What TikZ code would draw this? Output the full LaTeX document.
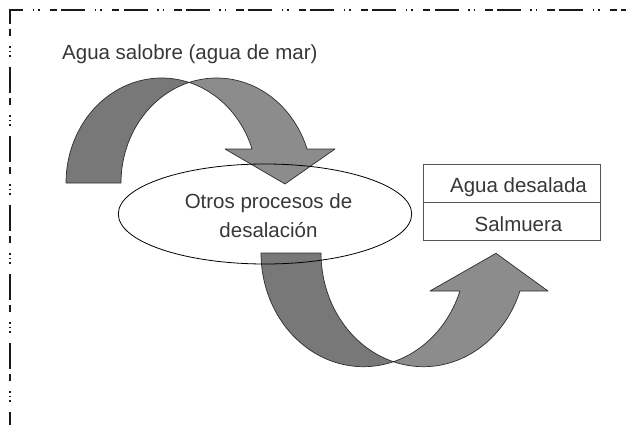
\documentclass[tikz,border=0pt]{standalone}
\usepackage{fontspec}
\setmainfont{Liberation Sans}
\usetikzlibrary{shapes.geometric}
\definecolor{darkfill}{RGB}{120,120,120}
\definecolor{lightfill}{RGB}{140,140,140}
\definecolor{edge}{RGB}{45,45,45}
\definecolor{textgray}{RGB}{55,55,55}
\definecolor{boxgray}{RGB}{85,85,85}
\definecolor{frame}{RGB}{25,25,25}
\tikzset{
  txt/.style={font=\fontsize{20.5}{28.3}\selectfont, text=textgray, inner sep=0pt},
  band/.style={draw=edge, line width=0.7pt, line join=round},
  framelineh/.style={draw=frame, line width=1.8pt,
    dash pattern=on 24pt off 9.5pt on 1.5pt off 4pt on 1.5pt off 10pt on 7.5pt off 4.2pt,
    dash phase=9.9pt},
  framelinev/.style={draw=frame, line width=1.8pt,
    dash pattern=on 26pt off 5pt on 7pt off 10pt on 2pt off 3pt on 1pt off 3pt on 2pt off 10pt,
    dash phase=11.3pt},
  cell/.style={draw=boxgray, line width=0.9pt, minimum width=176.5pt, minimum height=38.3pt, inner sep=0pt}
}
\begin{document}
\begin{tikzpicture}[x=1pt,y=-1pt]
\useasboundingbox (0,0) rectangle (626,425);
% frame (only top and left sides visible)
\draw[framelineh] (9.1,10.2) -- (640,10.2);
\draw[framelinev] (10,9.3) -- (10,440);

% title
\node[txt, anchor=base west] (title) at (62,60) {Agua salobre (agua de mar)};

% upper curved arrow: back (dark) part
\fill[darkfill, band]
  plot[domain=-180:-73.28, samples=60] ({161.6+95.6*cos(\x)},{183+105*sin(\x)})
  -- plot[domain=-106.72:-180, samples=60] ({216.6+95.6*cos(\x)},{183+105*sin(\x)})
  -- cycle;
% upper curved arrow: front (light) part with head
\fill[lightfill, band]
  plot[domain=-106.72:-18.89, samples=60] ({216.6+95.6*cos(\x)},{183+105*sin(\x)})
  -- (335,149) -- (285,184) -- (225,149)
  -- plot[domain=-18.89:-73.28, samples=60] ({161.6+95.6*cos(\x)},{183+105*sin(\x)})
  -- cycle;

% lower curved arrow: back (dark) part
\fill[darkfill, band]
  plot[domain=180:72.96, samples=60] ({363.4+102.4*cos(\x)},{253+113.7*sin(\x)})
  -- plot[domain=107.04:180, samples=60] ({423.4+102.4*cos(\x)},{253+113.7*sin(\x)})
  -- cycle;
% lower curved arrow: front (light) part with head
\fill[lightfill, band]
  plot[domain=107.04:19.53, samples=60] ({423.4+102.4*cos(\x)},{253+113.7*sin(\x)})
  -- (548,291) -- (496,253.3) -- (430,291)
  -- plot[domain=19.53:72.96, samples=60] ({363.4+102.4*cos(\x)},{253+113.7*sin(\x)})
  -- cycle;

% ellipse
\node[draw=black, line width=0.8pt, ellipse, minimum width=293.4pt, minimum height=100pt, inner sep=0pt] (proc) at (265,214) {};
\node[txt, align=center] (proctext) at (268.5,215.7) {Otros procesos de\\desalación};

% result box
\node[cell] (desal) at (512,183.15) {};
\node[cell] (salm) at (512,221.45) {};
\node[txt, anchor=base] (desaltext) at (518.5,192.7) {Agua desalada};
\node[txt, anchor=base] (salmtext) at (518.5,231) {Salmuera};
\end{tikzpicture}
\end{document}
